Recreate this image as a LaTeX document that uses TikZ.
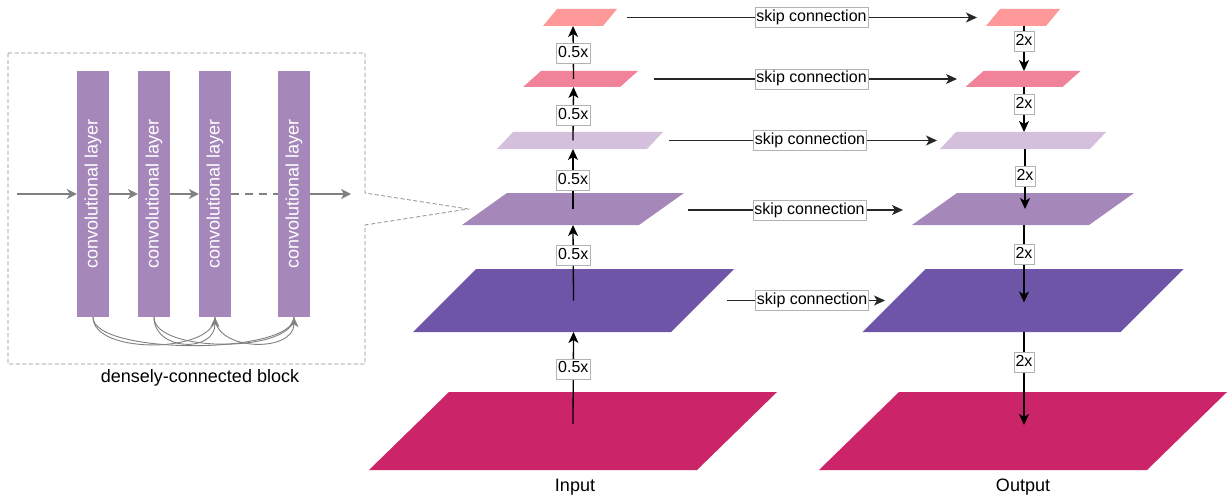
\documentclass[tikz,border=0pt]{standalone}
\usepackage{fontspec}
\setmainfont{Liberation Sans}
\usepackage{graphicx}
\usetikzlibrary{arrows.meta}

\definecolor{cP1}{HTML}{FF9999}
\definecolor{cP2}{HTML}{F0829A}
\definecolor{cP3}{HTML}{D4BFDD}
\definecolor{cP4}{HTML}{A587BA}
\definecolor{cP5}{HTML}{6F55A8}
\definecolor{cP6}{HTML}{CC2469}
\definecolor{convc}{HTML}{A587BA}
\definecolor{arrgray}{HTML}{808080}

% name, x, y, width, height, skew, colour
\newcommand{\paral}[7]{%
  \node[inner sep=0pt, outer sep=0pt, minimum width=#4pt, minimum height=#5pt] (#1) at (#2,#3) {};
  \fill[#7] ([xshift=#6pt]#1.north west) -- (#1.north east) -- ([xshift=-#6pt]#1.south east) -- (#1.south west) -- cycle;
}

\begin{document}
\begin{tikzpicture}[x=1pt,y=-1pt,
  lbl/.style={fill=white, draw=black!30, line width=0.6pt, font=\fontsize{16}{18}\selectfont, inner xsep=1.5pt, inner ysep=2pt, text height=12pt, text depth=4pt},
  varrow/.style={draw=black, line width=1.3pt, -{Stealth[length=11pt,width=10pt,inset=3pt]}},
  skiparrow/.style={draw=black!85, line width=1.3pt, -{Stealth[length=11pt,width=10pt,inset=3pt]}},
  conv/.style={fill=convc, minimum width=32pt, minimum height=246pt, inner sep=0pt, text=white, font=\fontsize{18}{20}\selectfont},
  garrow/.style={draw=arrgray, line width=1.5pt, -{Stealth[length=10pt,width=10pt,inset=3pt]}},
  gdash/.style={draw=arrgray, line width=2.5pt, dash pattern=on 8pt off 6pt},
  gcurve/.style={draw=arrgray, line width=0.9pt},
  gcurvetip/.style={gcurve, -{Stealth[length=10pt,width=9pt,inset=3pt]}},
  callout/.style={draw=black!45, line width=0.8pt, dash pattern=on 4pt off 2.5pt},
  caption/.style={font=\fontsize{18}{20}\selectfont},
]
\useasboundingbox (0,0) rectangle (1228,500);

% ---------- left: densely-connected block ----------
\node[conv] (L1) at (93,194) {\rotatebox{90}{convolutional layer}};
\node[conv] (L2) at (154,194) {\rotatebox{90}{convolutional layer}};
\node[conv] (L3) at (215,194) {\rotatebox{90}{convolutional layer}};
\node[conv] (L4) at (294,194) {\rotatebox{90}{convolutional layer}};
\coordinate (inL) at (17,194);
\coordinate (outL) at (351,194);
\draw[garrow] (inL) -- (L1);
\draw[garrow] (L1) -- (L2);
\draw[garrow] (L2) -- (L3);
\draw[gdash] (L3) -- (L4);
\draw[garrow] (L4) -- (outL);

\draw[gcurve] (L1.south) .. controls +(0,38) and +(0,38) .. (L4.south);
\draw[gcurve] (L2.south) .. controls +(0,36) and +(0,36) .. (L4.south);
\draw[gcurvetip] (L3.south) .. controls +(0,34) and +(0,36) .. (L4.south);
\draw[gcurve] (L1.south) .. controls +(0,38) and +(0,36) .. (L3.south);
\draw[gcurvetip] (L2.south) .. controls +(0,34) and +(0,36) .. (L3.south);

\node[caption] (dcb) at (200,378) {densely-connected block};

% ---------- encoder / decoder planes ----------
\paral{P1}{580}{17.5}{74}{17}{14}{cP1}
\paral{P2}{580.5}{79}{115}{16}{18}{cP2}
\paral{P3}{580}{140.5}{166}{17}{16}{cP3}
\paral{P4}{573}{209}{222}{32}{45}{cP4}
\paral{P5}{573.5}{300.5}{321}{63}{63}{cP5}
\paral{P6}{573}{431}{408}{78}{80}{cP6}

\paral{Q1}{1023}{17.5}{74}{17}{14}{cP1}
\paral{Q2}{1023}{79}{115}{16}{18}{cP2}
\paral{Q3}{1023}{140.5}{166}{17}{16}{cP3}
\paral{Q4}{1023}{209}{222}{32}{45}{cP4}
\paral{Q5}{1023}{300.5}{321}{63}{63}{cP5}
\paral{Q6}{1023}{431}{408}{78}{80}{cP6}

% callout from block to P4
\draw[callout] (8,53) -- (365,53) -- (365,193) -- ([xshift=6pt]P4.west) -- (365,225) -- (365,364) -- (8,364) -- cycle;

% encoder arrows
\draw[varrow] ([yshift=7pt]P6.center) -- node[lbl, pos=0.6] (d1) {0.5x} (P5.south);
\draw[varrow] (P5.center) -- node[lbl, pos=0.6] (d2) {0.5x} (P4.south);
\draw[varrow] (P4.center) -- node[lbl, pos=0.48] (d3) {0.5x} ([xshift=-7pt]P3.south);
\draw[varrow] ([xshift=-7pt]P3.center) -- node[lbl, pos=0.47] (d4) {0.5x} ([xshift=-7pt]P2.south);
\draw[varrow] ([xshift=-7pt]P2.center) -- node[lbl, pos=0.49] (d5) {0.5x} ([xshift=-7pt]P1.south);

% decoder arrows
\draw[varrow] ([xshift=1pt]Q1.south) -- node[lbl, pos=0.35] (u1) {2x} ([xshift=1pt]Q2.north);
\draw[varrow] ([xshift=1pt]Q2.south) -- node[lbl, pos=0.38] (u2) {2x} ([xshift=1pt]Q3.north);
\draw[varrow] ([xshift=2pt]Q3.south) -- node[lbl, pos=0.46] (u3) {2x} ([xshift=2pt]Q4.center);
\draw[varrow] ([xshift=1pt]Q4.south) -- node[lbl, pos=0.38] (u4) {2x} ([xshift=1pt,yshift=-2pt]Q5.center);
\draw[varrow] ([xshift=1pt]Q5.south) -- node[lbl, pos=0.33] (u5) {2x} ([xshift=1pt,yshift=6pt]Q6.center);

% skip connections
\draw[skiparrow] ([xshift=10pt]P1.east) -- node[lbl, pos=0.527] (s1) {skip connection} ([xshift=-9pt]Q1.west);
\draw[skiparrow] ([xshift=15.5pt]P2.east) -- node[lbl, pos=0.521] (s2) {skip connection} ([xshift=-8.5pt]Q2.west);
\draw[skiparrow] ([xshift=6pt]P3.east) -- node[lbl, pos=0.526] (s3) {skip connection} ([xshift=-3pt]Q3.west);
\draw[skiparrow] ([xshift=4pt,yshift=-1pt]P4.east) -- node[lbl, pos=0.565] (s4) {skip connection} ([xshift=-9pt,yshift=-1pt]Q4.west);
\draw[skiparrow] ([xshift=-7.5pt]P5.east) -- node[lbl, pos=0.54] (s5) {skip connection} ([xshift=22.5pt]Q5.west);

% captions
\node[caption] (inlbl) at (575,487) {Input};
\node[caption] (outlbl) at (1023,487) {Output};
\end{tikzpicture}
\end{document}
